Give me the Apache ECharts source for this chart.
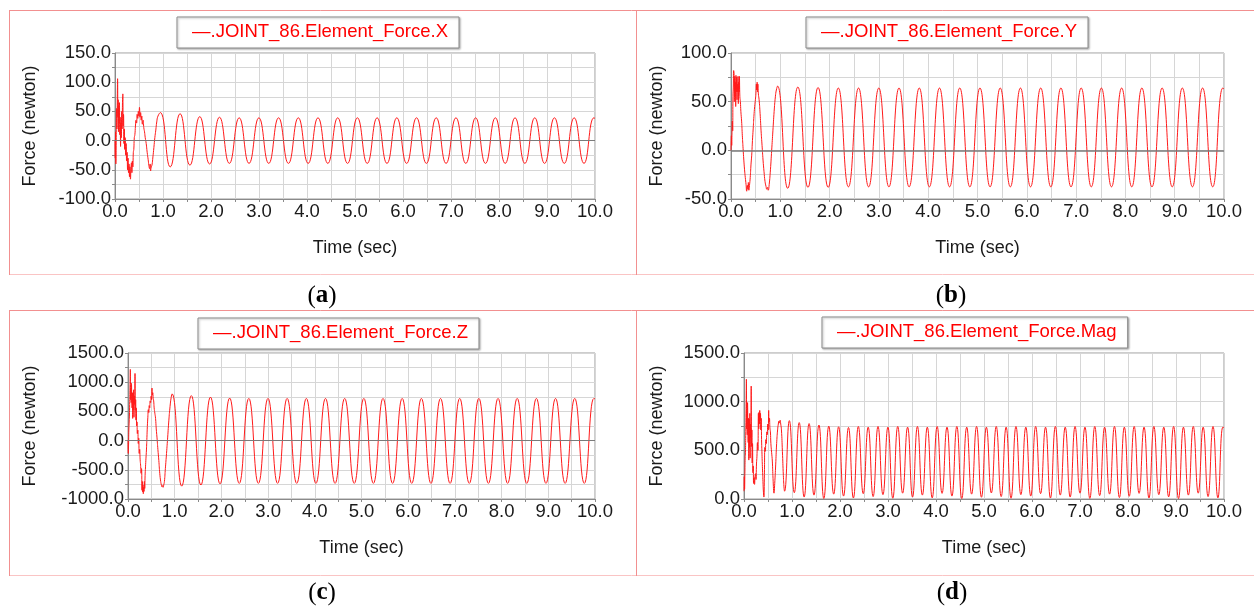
<!DOCTYPE html>
<html>
<head>
<meta charset="utf-8">
<script src="https://cdn.jsdelivr.net/npm/echarts@6.0.0/dist/echarts.min.js"></script>
<style>
html, body { margin: 0; padding: 0; background: #fff; }
#main { width: 1254px; height: 609px; }
</style>
</head>
<body>
<div id="main"></div>
<script>
// start-up transient of each force component (time s, force N)
const tStartX = [0.000,0.006,0.012,0.018,0.025,0.032,0.040,0.048,0.054,0.060,0.066,0.072,0.078,0.085,0.092,0.100,0.108,0.116,0.124,0.132,0.140,0.148,0.156,0.163,0.170,0.178,0.186,0.194,0.202,0.212,0.222,0.232,0.242,0.252,0.262,0.272,0.282,0.292,0.302,0.312,0.322,0.332,0.342,0.352,0.362,0.372,0.382,0.392,0.402,0.414,0.426,0.438,0.450,0.462,0.474,0.486,0.498,0.510,0.522,0.534,0.546,0.558,0.570,0.585,0.600,0.615,0.630,0.650,0.670,0.690,0.705,0.720,0.732,0.742,0.755,0.770,0.790,0.810,0.830,0.850,0.870,0.895];
const forceStartX = [0,-30,15,-40,10,55,20,75,106,40,70,15,60,30,65,10,40,-10,30,5,50,20,65,80,25,45,-5,20,-15,5,-25,-5,-35,-20,-50,-30,-55,-40,-62,-45,-66,-50,-38,-55,-35,-45,-20,-15,5,10,25,35,30,45,38,50,42,57,40,48,35,42,28,35,22,15,5,-5,-20,-32,-42,-48,-40,-52,-45,-42,-28,-12,5,18,32,42];

const tStartY = [0.000,0.008,0.014,0.020,0.027,0.034,0.040,0.047,0.054,0.061,0.068,0.075,0.081,0.088,0.095,0.101,0.108,0.115,0.122,0.128,0.135,0.142,0.149,0.156,0.163,0.170,0.180,0.190,0.200,0.215,0.230,0.245,0.260,0.275,0.290,0.305,0.318,0.330,0.342,0.352,0.362,0.375,0.390,0.405,0.420,0.435,0.450,0.465,0.480,0.495,0.505,0.515,0.522,0.530,0.538,0.545,0.555,0.570,0.590,0.610,0.630,0.650,0.670,0.690,0.710,0.725,0.740,0.755,0.775,0.800,0.825,0.850,0.875,0.900,0.920];
const forceStartY = [0,15,5,18,30,20,55,65,82,80,50,76,55,70,45,77,60,75,52,68,60,76,48,70,60,76,55,50,40,30,15,2,-10,-20,-28,-35,-42,-36,-40,-33,-41,-36,-28,-15,-5,10,22,35,45,52,58,68,62,70,60,68,58,52,38,20,5,-10,-22,-32,-37,-40,-38,-41,-35,-20,0,20,40,55,62];

const tStartZ = [0.000,0.006,0.012,0.018,0.024,0.030,0.036,0.043,0.050,0.056,0.062,0.068,0.074,0.080,0.087,0.094,0.100,0.107,0.114,0.121,0.128,0.136,0.143,0.150,0.157,0.164,0.171,0.178,0.186,0.193,0.200,0.210,0.220,0.230,0.240,0.250,0.260,0.270,0.280,0.290,0.300,0.307,0.314,0.321,0.328,0.336,0.343,0.350,0.358,0.366,0.375,0.385,0.395,0.405,0.414,0.425,0.435,0.445,0.455,0.465,0.475,0.485,0.495,0.505,0.514,0.522,0.530,0.540,0.550,0.560,0.575,0.590,0.605,0.620,0.640,0.660,0.680,0.700,0.715,0.728,0.740,0.752,0.765,0.780,0.800,0.825,0.850,0.875,0.900,0.925];
const forceStartZ = [0,-220,-80,180,300,420,620,900,1220,700,880,650,980,760,560,820,380,810,520,870,400,760,620,1150,520,700,350,560,250,320,120,180,-50,40,-220,-150,-330,-420,-560,-480,-850,-700,-880,-760,-910,-800,-870,-700,-820,-600,-450,-300,-160,50,240,400,530,480,600,560,680,650,760,700,900,780,820,720,680,560,470,380,200,60,-150,-340,-560,-700,-760,-790,-770,-800,-760,-700,-480,-220,60,350,580,740];

const tStartMag = [0.000,0.006,0.012,0.018,0.024,0.030,0.036,0.043,0.050,0.056,0.062,0.068,0.074,0.080,0.087,0.094,0.100,0.107,0.114,0.121,0.128,0.136,0.143,0.150,0.157,0.164,0.171,0.178,0.186,0.193,0.200,0.210,0.220,0.230,0.240,0.250,0.260,0.270,0.280,0.290,0.300,0.307,0.314,0.321,0.328,0.336,0.343,0.350,0.358,0.366,0.375,0.385,0.395,0.405,0.414,0.425,0.435,0.445,0.455,0.465,0.475,0.485,0.495,0.505,0.514,0.522,0.530,0.540,0.550,0.560,0.575,0.590,0.605,0.625,0.640,0.660,0.680,0.700,0.715,0.728,0.740,0.752,0.765,0.780,0.800,0.820,0.835,0.845];
const forceStartMag = [80,230,100,260,420,480,650,920,1230,720,900,660,990,770,580,830,400,820,530,880,420,770,630,1160,540,710,370,570,270,340,160,220,150,230,260,200,360,440,580,500,880,720,890,770,910,810,880,710,830,610,460,310,180,70,20,250,530,490,610,570,690,660,770,710,910,790,830,730,690,570,480,390,210,60,160,350,570,710,770,800,780,810,770,710,490,240,110,80];

// settled oscillation: alternating peak / trough times, same phase for X, Y and Z
const tCycle = [0.945,1.150,1.356,1.561,1.766,1.971,2.177,2.382,2.587,2.792,2.998,3.203,3.408,3.613,3.819,4.024,4.229,4.434,4.640,4.845,5.050,5.255,5.461,5.666,5.871,6.076,6.282,6.487,6.692,6.897,7.103,7.308,7.513,7.718,7.924,8.129,8.334,8.539,8.745,8.950,9.155,9.360,9.566,9.771,9.976,10.000];
const forceCycleX = [48,-45,46,-42,41,-40,40,-39,39,-39,39,-39,39,-39,39,-39,39,-39,39,-39,39,-39,39,-39,39,-39,39,-39,39,-39,39,-39,39,-39,39,-39,39,-39,39,-39,39,-39,39,-39,39,38];
const forceCycleY = [66,-39,65,-38,64.5,-38,64,-37.5,64,-37.5,64,-37.5,64,-37.5,64,-37.5,64,-37.5,64,-37.5,64,-37.5,64,-37.5,64,-37.5,64,-37.5,64,-37.5,64,-37.5,64,-37.5,64,-37.5,64,-37.5,64,-37.5,64,-37.5,64,-37.5,64,63];
const forceCycleZ = [800,-780,770,-760,745,-740,728,-733,722,-732,722,-732,722,-732,722,-732,722,-732,722,-732,722,-732,722,-732,722,-732,722,-732,722,-732,722,-732,722,-732,722,-732,722,-732,722,-732,722,-732,722,-732,722,715];

// magnitude: tops and dips at twice the rate
const tCycleMag = [0.945,1.048,1.150,1.253,1.356,1.458,1.561,1.663,1.766,1.869,1.971,2.074,2.177,2.279,2.382,2.484,2.587,2.690,2.792,2.895,2.998,3.100,3.203,3.305,3.408,3.511,3.613,3.716,3.819,3.921,4.024,4.126,4.229,4.332,4.434,4.537,4.640,4.742,4.845,4.947,5.050,5.153,5.255,5.358,5.461,5.563,5.666,5.768,5.871,5.974,6.076,6.179,6.282,6.384,6.487,6.589,6.692,6.795,6.897,7.000,7.103,7.205,7.308,7.410,7.513,7.616,7.718,7.821,7.924,8.026,8.129,8.231,8.334,8.437,8.539,8.642,8.745,8.847,8.950,9.052,9.155,9.258,9.360,9.463,9.566,9.668,9.771,9.873,9.976,10.000];
const forceCycleMag = [805,65,785,20,775,40,760,5,748,50,742,30,735,10,745,55,738,25,745,45,738,8,745,60,738,20,745,40,738,12,745,58,738,30,745,5,738,50,745,18,738,62,745,25,738,8,745,45,738,30,745,55,738,10,745,40,738,20,745,60,738,6,745,35,738,50,745,15,738,28,745,58,738,10,745,45,738,22,745,5,738,40,745,60,738,25,745,12,738,735];

const seriesNames = ['.JOINT_86.Element_Force.X', '.JOINT_86.Element_Force.Y', '.JOINT_86.Element_Force.Z', '.JOINT_86.Element_Force.Mag'];
const yMin = [-100, -50, -1000, 0];
const yMax = [150, 100, 1500, 1500];
const yStep = [50, 50, 500, 500];
const panelTags = ['a', 'b', 'c', 'd'];

function zip(t, v) {
    return t.map(function (x, i) { return [x, v[i]]; });
}

const seriesData = [
    zip(tStartX, forceStartX).concat(zip(tCycle, forceCycleX)),
    zip(tStartY, forceStartY).concat(zip(tCycle, forceCycleY)),
    zip(tStartZ, forceStartZ).concat(zip(tCycle, forceCycleZ)),
    zip(tStartMag, forceStartMag).concat(zip(tCycleMag, forceCycleMag))
];

const sans = '"Liberation Sans", Arial, sans-serif';
const gridBoxes = [
    {left: 115, top: 53, width: 480, height: 146},
    {left: 731, top: 53, width: 493, height: 146},
    {left: 128, top: 353, width: 467, height: 146},
    {left: 744, top: 353, width: 480, height: 146}
];
const yNameGap = [76, 65, 89, 78];
const legendPos = [[177, 17], [806, 17], [198, 318], [822, 317]];
const captionPos = [[322, 296], [951, 296], [322, 593], [952, 593]];

let grid = [], xAxis = [], yAxis = [], legend = [], series = [];
for (let i = 0; i < 4; i++) {
    grid.push(Object.assign({
        show: true, borderColor: '#9a9a9a', borderWidth: 1, backgroundColor: '#fff',
        containLabel: false, outerBoundsMode: 'none'
    }, gridBoxes[i]));
    xAxis.push({
        type: 'value', gridIndex: i, min: 0, max: 10, interval: 1,
        name: 'Time (sec)', nameLocation: 'middle', nameGap: 40,
        nameTextStyle: {fontFamily: sans, fontSize: 18, color: '#1a1a1a'},
        axisLine: {onZero: false, lineStyle: {color: '#8a8a8a'}},
        axisTick: {show: true, length: 3, lineStyle: {color: '#8a8a8a'}},
        minorTick: {show: true, splitNumber: 2, length: 3, lineStyle: {color: '#8a8a8a'}},
        splitLine: {show: true, lineStyle: {color: '#d6d6d6'}},
        minorSplitLine: {show: true, lineStyle: {color: '#d6d6d6'}},
        axisLabel: {
            fontFamily: sans, fontSize: 18.5, color: '#1a1a1a', margin: 3,
            formatter: function (v) { return v.toFixed(1); }
        }
    });
    yAxis.push({
        type: 'value', gridIndex: i, min: yMin[i], max: yMax[i], interval: yStep[i],
        name: 'Force (newton)', nameLocation: 'middle', nameGap: yNameGap[i],
        nameTextStyle: {fontFamily: sans, fontSize: 18, color: '#1a1a1a'},
        axisLine: {show: true, onZero: false, lineStyle: {color: '#8a8a8a'}},
        axisTick: {show: true, length: 3, lineStyle: {color: '#8a8a8a'}},
        minorTick: {show: true, splitNumber: 2, length: 3, lineStyle: {color: '#8a8a8a'}},
        splitLine: {show: true, lineStyle: {color: '#d6d6d6'}},
        minorSplitLine: {show: true, lineStyle: {color: '#d6d6d6'}},
        axisLabel: {
            fontFamily: sans, fontSize: 18.5, color: '#1a1a1a', margin: 4,
            formatter: function (v) { return v.toFixed(1); }
        }
    });
    legend.push({
        data: [seriesNames[i]], left: legendPos[i][0], top: legendPos[i][1],
        icon: 'none', itemWidth: 0, itemHeight: 0,
        formatter: function (name) { return '\u2014' + name; },
        textStyle: {fontFamily: sans, fontSize: 18.5, color: '#ff0000', lineHeight: 20},
        padding: [5, 11, 6, 10],
        borderColor: '#8c8c8c', borderWidth: 1, backgroundColor: '#fff',
        shadowColor: 'rgba(0,0,0,0.3)', shadowBlur: 2, shadowOffsetX: 1, shadowOffsetY: 1,
        selectedMode: false
    });
    series.push({
        name: seriesNames[i], type: 'line', xAxisIndex: i, yAxisIndex: i,
        data: seriesData[i], smooth: true, symbol: 'none',
        lineStyle: {color: '#ff1a1a', width: 1}, itemStyle: {color: '#ff0000'},
        markLine: i === 3 ? undefined : {
            silent: true, symbol: 'none', label: {show: false},
            lineStyle: {color: '#7a7a7a', width: i === 1 ? 1.5 : 1, type: 'solid'},
            data: [{yAxis: 0}]
        }
    });
}

const frameTop = '#f29090', frameBottom = '#fac4c4';
let graphic = [
    {type: 'line', shape: {x1: 9, y1: 10.5, x2: 1254, y2: 10.5}, style: {stroke: frameTop, lineWidth: 1}},
    {type: 'line', shape: {x1: 9, y1: 274.5, x2: 1254, y2: 274.5}, style: {stroke: frameBottom, lineWidth: 1}},
    {type: 'line', shape: {x1: 9, y1: 310.5, x2: 1254, y2: 310.5}, style: {stroke: frameTop, lineWidth: 1}},
    {type: 'line', shape: {x1: 9, y1: 575.5, x2: 1254, y2: 575.5}, style: {stroke: frameBottom, lineWidth: 1}},
    {type: 'line', shape: {x1: 9.5, y1: 10, x2: 9.5, y2: 275}, style: {stroke: frameTop, lineWidth: 1}},
    {type: 'line', shape: {x1: 636.5, y1: 10, x2: 636.5, y2: 275}, style: {stroke: frameTop, lineWidth: 1}},
    {type: 'line', shape: {x1: 9.5, y1: 310, x2: 9.5, y2: 576}, style: {stroke: frameTop, lineWidth: 1}},
    {type: 'line', shape: {x1: 636.5, y1: 310, x2: 636.5, y2: 576}, style: {stroke: frameTop, lineWidth: 1}}
];
for (let i = 0; i < 4; i++) {
    graphic.push({
        type: 'text', x: captionPos[i][0], y: captionPos[i][1],
        style: {
            text: '{p|(}{b|' + panelTags[i] + '}{p|)}',
            align: 'center', verticalAlign: 'middle',
            rich: {
                p: {fontFamily: '"Liberation Serif", serif', fontSize: 25, color: '#000'},
                b: {fontFamily: '"Liberation Serif", serif', fontSize: 25, fontWeight: 'bold', color: '#000'}
            }
        }
    });
}

const chart = echarts.init(document.getElementById('main'));
chart.setOption({
    animation: false,
    backgroundColor: '#fff',
    grid: grid,
    xAxis: xAxis,
    yAxis: yAxis,
    legend: legend,
    series: series,
    graphic: graphic
});
</script>
</body>
</html>
